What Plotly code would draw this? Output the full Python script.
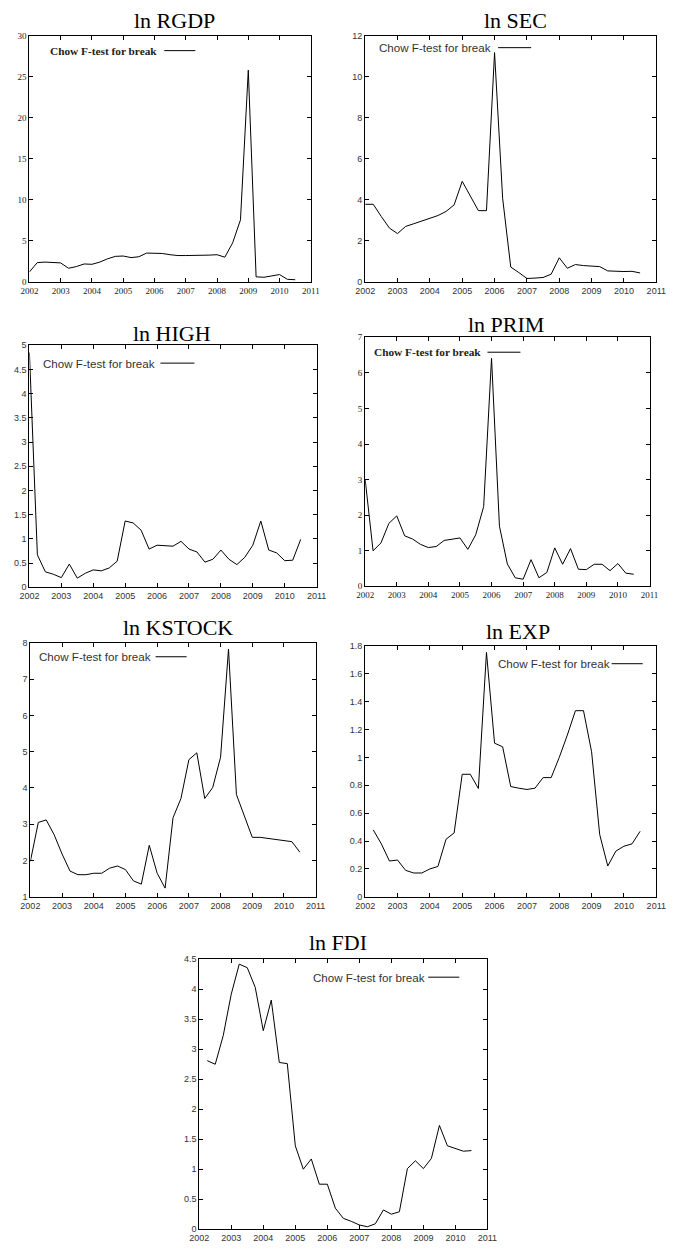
import plotly.graph_objects as go

W, H = 676, 1254

quarters = [2002.0, 2002.25, 2002.5, 2002.75, 2003.0, 2003.25, 2003.5, 2003.75,
            2004.0, 2004.25, 2004.5, 2004.75, 2005.0, 2005.25, 2005.5, 2005.75,
            2006.0, 2006.25, 2006.5, 2006.75, 2007.0, 2007.25, 2007.5, 2007.75,
            2008.0, 2008.25, 2008.5, 2008.75, 2009.0, 2009.25, 2009.5, 2009.75,
            2010.0, 2010.25, 2010.5]
year_ticks = [2002, 2003, 2004, 2005, 2006, 2007, 2008, 2009, 2010, 2011]

rgdp = [1.2, 2.33, 2.4, 2.35, 2.3, 1.65, 1.85, 2.17, 2.13, 2.4, 2.8, 3.1,
        3.14, 2.95, 3.05, 3.5, 3.5, 3.45, 3.3, 3.2, 3.2, 3.2, 3.25, 3.25,
        3.3, 3.0, 4.75, 7.55, 25.8, 0.6, 0.55, 0.7, 0.88, 0.3, 0.25]
sec = [3.78, 3.78, 3.18, 2.62, 2.35, 2.7, 2.83, 2.96, 3.1, 3.23, 3.43, 3.75,
       4.9, 4.18, 3.47, 3.47, 11.18, 4.07, 0.72, 0.45, 0.16, 0.18, 0.21, 0.37,
       1.17, 0.66, 0.84, 0.79, 0.76, 0.74, 0.53, 0.5, 0.5, 0.51, 0.43]
high = [4.85, 0.67, 0.32, 0.27, 0.2, 0.48, 0.19, 0.29, 0.36, 0.34, 0.4, 0.54,
        1.37, 1.33, 1.18, 0.79, 0.87, 0.86, 0.85, 0.95, 0.79, 0.73, 0.52, 0.58,
        0.77, 0.58, 0.47, 0.62, 0.87, 1.37, 0.77, 0.71, 0.55, 0.56, 0.99]
prim = [3.0, 1.0, 1.22, 1.77, 1.98, 1.42, 1.33, 1.18, 1.09, 1.12, 1.29, 1.33,
        1.36, 1.04, 1.45, 2.24, 6.41, 1.69, 0.63, 0.24, 0.2, 0.75, 0.24, 0.39,
        1.08, 0.62, 1.06, 0.48, 0.47, 0.62, 0.62, 0.44, 0.64, 0.37, 0.34]
kstock = [1.98, 3.05, 3.12, 2.71, 2.18, 1.71, 1.61, 1.61, 1.65, 1.65, 1.79, 1.85,
          1.75, 1.44, 1.35, 2.42, 1.65, 1.24, 3.18, 3.71, 4.78, 4.97, 3.71, 4.01,
          4.85, 7.83, 3.82, 3.25, 2.64, 2.64, 2.61, 2.59, 2.56, 2.52, 2.23]
exp_ = [0.48, 0.38, 0.257, 0.264, 0.19, 0.171, 0.171, 0.2, 0.218, 0.413, 0.458,
        0.879, 0.879, 0.777, 1.753, 1.102, 1.076, 0.791, 0.779, 0.77, 0.779, 0.855, 0.855,
        1.0, 1.16, 1.335, 1.335, 1.04, 0.447, 0.221, 0.328, 0.363, 0.38, 0.47]
fdi = [2.81, 2.75, 3.23, 3.92, 4.42, 4.36, 4.03, 3.31, 3.82, 2.78, 2.76,
       1.39, 1.0, 1.17, 0.75, 0.75, 0.35, 0.18, 0.13, 0.07, 0.04, 0.09, 0.32,
       0.25, 0.29, 1.01, 1.14, 1.01, 1.18, 1.73, 1.39, 1.34, 1.30, 1.31]

titles = ["ln RGDP", "ln SEC", "ln HIGH", "ln PRIM", "ln KSTOCK", "ln EXP", "ln FDI"]
legend_label = "Chow F-test for break"

SERIF = "Liberation Serif"
SANS = "Liberation Sans"

# panel specs: (x, y, title, yrange, dtick, bold-serif style,
#   plot box px (l, t, r, b), title center px (x, y), legend text px (x, y), legend line px (x0, x1))
panels = [
    (quarters, rgdp, titles[0], [0, 30], 5, True, (20, 31, 310, 279), (170, 16), (40, 46), (159, 191)),
    (quarters, sec, titles[1], [0, 12], 2, False, (366, 31, 666, 279), (521, 16), (379, 43), (503, 537)),
    (quarters, high, titles[2], [0, 5], 0.5, False, (20, 343, 316, 587), (167, 331), (33, 361), (155, 190)),
    (quarters, prim, titles[3], [0, 7], 1, True, (366, 335, 659, 586), (511, 322), (374, 350), (492, 526)),
    (quarters, kstock, titles[4], [1, 8], 1, False, (21, 643, 315, 899), (173, 628), (29, 657), (150, 182)),
    (quarters[1:], exp_, titles[5], [0, 1.8], 0.2, False, (366, 646, 666, 899), (524, 632), (502, 664), (620, 652)),
    (quarters[1:], fdi, titles[6], [0, 4.5], 0.5, False, (195, 962, 492, 1234), (338, 945), (311, 980), (431, 463)),
]


def px(x):
    return x / W


def py(y):
    return 1 - y / H


fig = go.Figure()
annotations = []
shapes = []
layout = dict(width=W, height=H, margin=dict(l=0, r=0, t=0, b=0),
              paper_bgcolor="white", plot_bgcolor="white", showlegend=False)

for i, (xs, ys, title, yr, dt, bold, box, tpos, lpos, lline) in enumerate(panels):
    n = i + 1
    xa = "x" if n == 1 else f"x{n}"
    ya = "y" if n == 1 else f"y{n}"
    fig.add_trace(go.Scatter(x=xs, y=ys, mode="lines", xaxis=xa, yaxis=ya,
                             line=dict(color="black", width=1), name=legend_label))
    l, t, r, b = box
    if bold:
        tfont = dict(family=SERIF, size=9, color="#222")
        lfont_txt = "<b>" + legend_label + "</b>"
        lfont = dict(family=SERIF, size=11.3, color="#222")
    else:
        tfont = dict(family=SANS, size=9, color="#333")
        lfont_txt = legend_label
        lfont = dict(family=SANS, size=11.6, color="#333")
    common = dict(showline=True, linecolor="black", linewidth=1, mirror="ticks",
                  ticks="inside", ticklen=4, tickcolor="black", showgrid=False,
                  zeroline=False, tickfont=tfont)
    layout["xaxis" if n == 1 else f"xaxis{n}"] = dict(
        domain=[px(l), px(r)], range=[2002, 2011], tickvals=year_ticks,
        anchor=ya, **common)
    layout["yaxis" if n == 1 else f"yaxis{n}"] = dict(
        domain=[py(b), py(t)], range=yr, dtick=dt, tick0=0,
        anchor=xa, **common)
    annotations.append(dict(text=title, x=px(tpos[0]), y=py(tpos[1]), xref="paper", yref="paper",
                            xanchor="center", yanchor="middle", showarrow=False,
                            font=dict(family=SERIF, size=22, color="black")))
    annotations.append(dict(text=lfont_txt, x=px(lpos[0]), y=py(lpos[1]), xref="paper", yref="paper",
                            xanchor="left", yanchor="middle", align="left", showarrow=False,
                            borderpad=0, font=lfont))
    shapes.append(dict(type="line", xref="paper", yref="paper",
                       x0=px(lline[0]), x1=px(lline[1]), y0=py(lpos[1]), y1=py(lpos[1]),
                       line=dict(color="black", width=1)))

layout["annotations"] = annotations
layout["shapes"] = shapes
fig.update_layout(**layout)
fig.write_html("out.html")
